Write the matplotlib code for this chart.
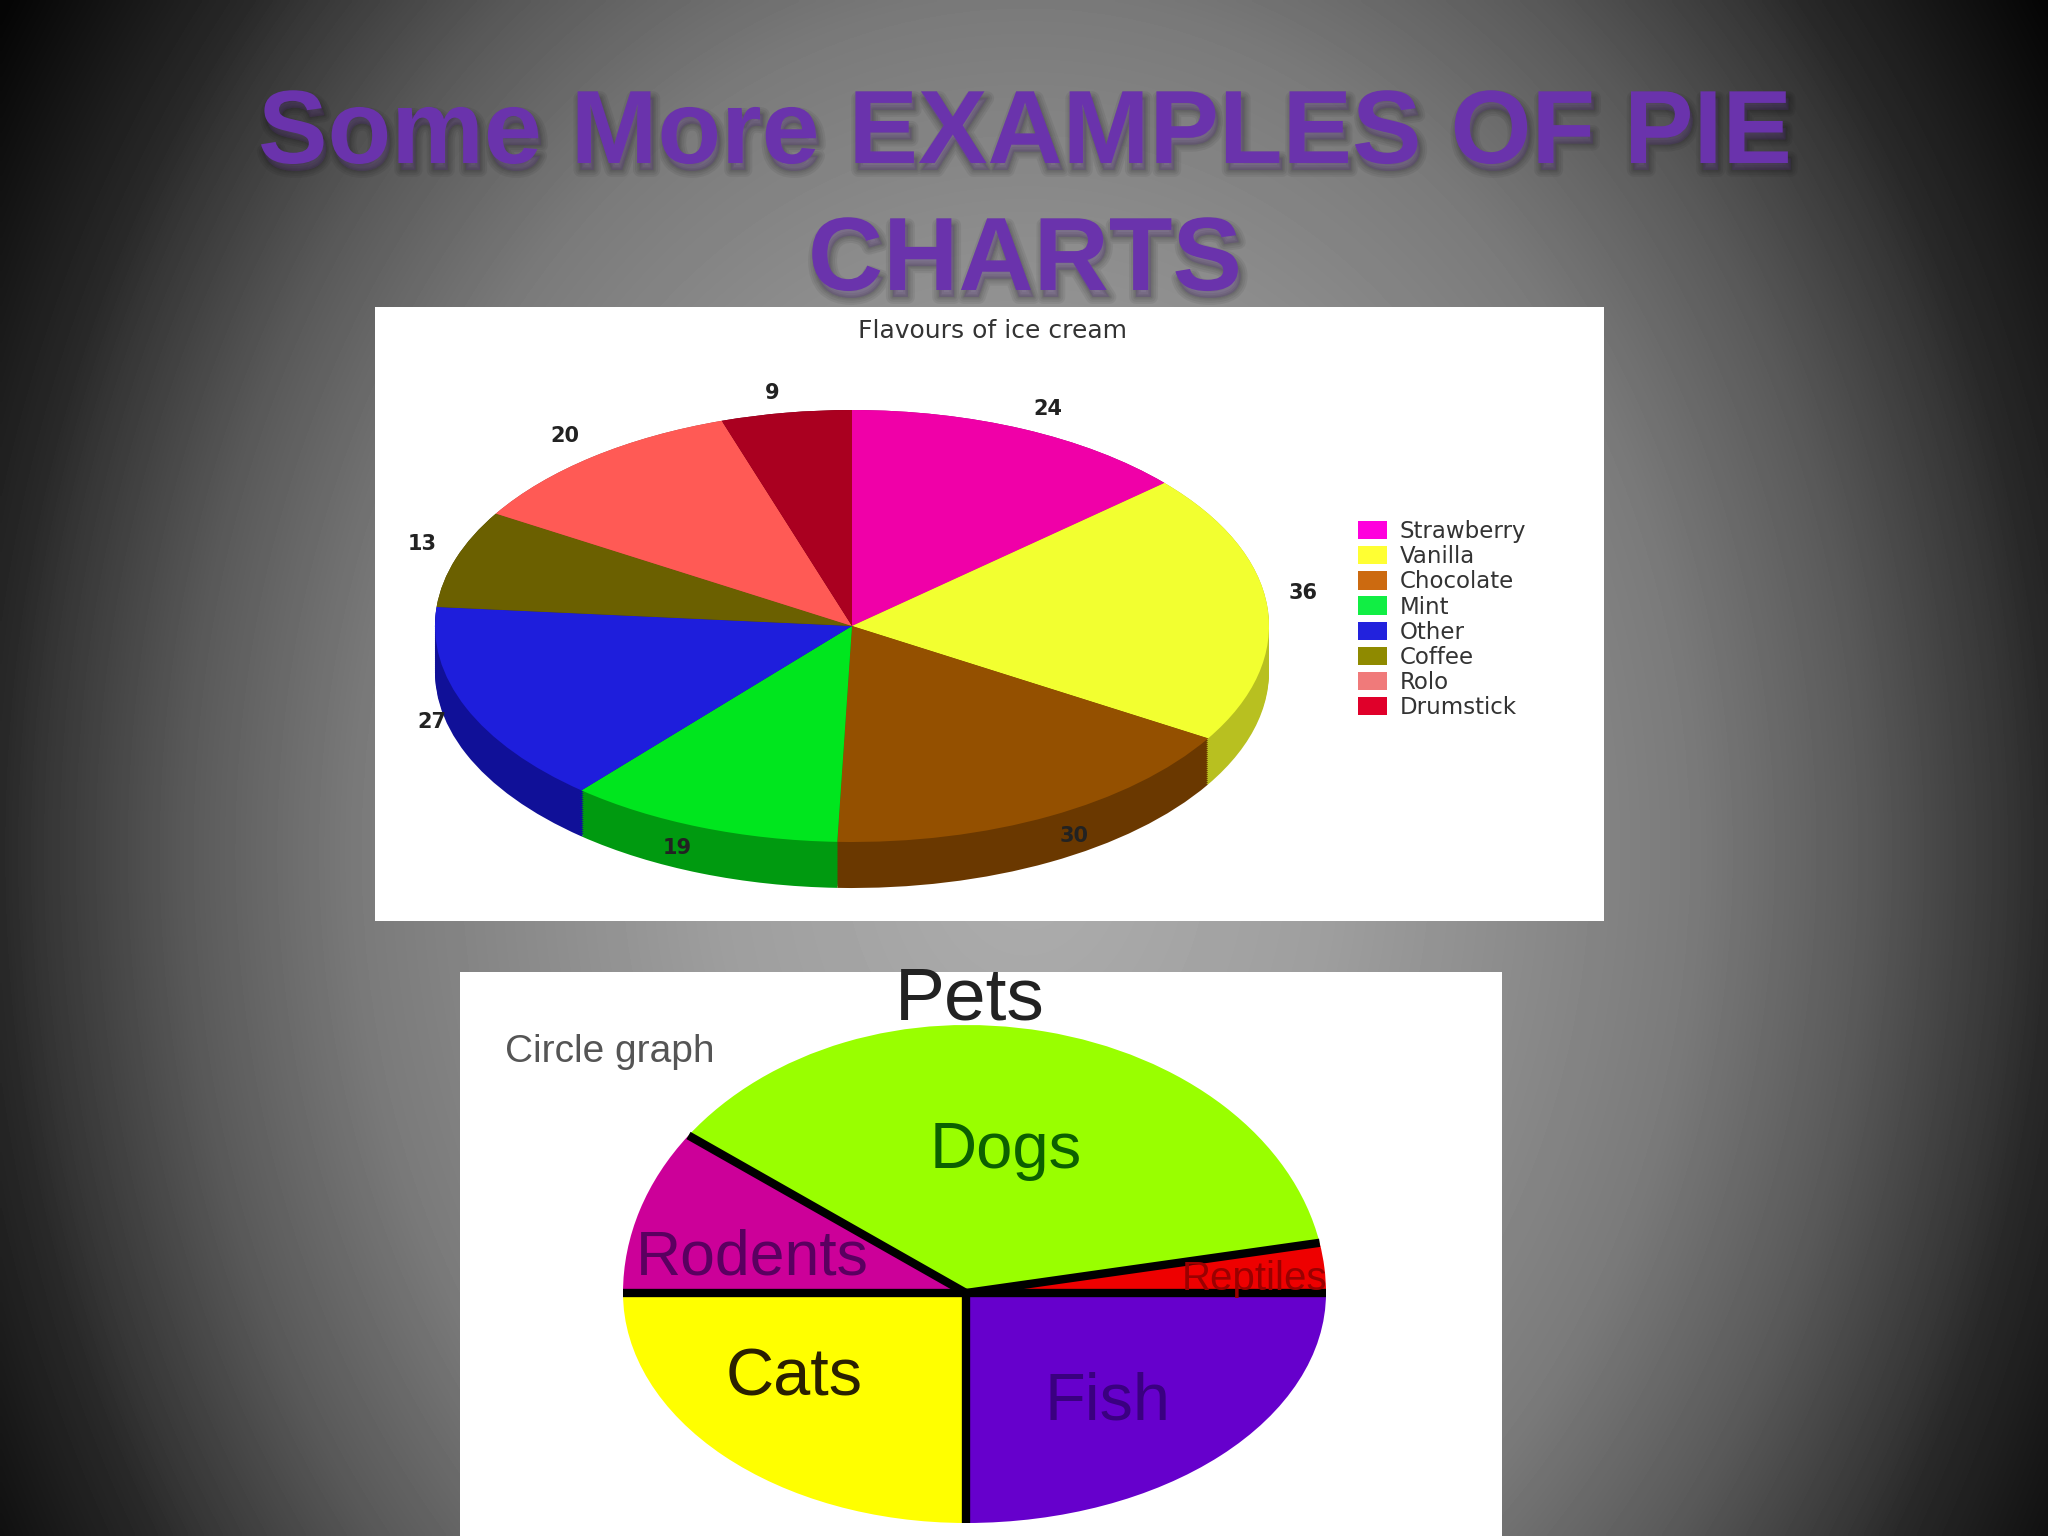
import numpy as np
import matplotlib
matplotlib.use("Agg")
import matplotlib.pyplot as plt
import matplotlib.patheffects as pe
from matplotlib.patches import Rectangle, Patch

W, H = 2048, 1536

# ---- data ----
flavours = ["Strawberry", "Vanilla", "Chocolate", "Mint", "Other", "Coffee", "Rolo", "Drumstick"]
flavour_values = [24, 36, 30, 19, 27, 13, 20, 9]
flavour_top = ["#f000a8", "#f2ff30", "#945000", "#00e61e", "#1e1edc", "#6b6000", "#ff5a55", "#aa0020"]
flavour_side = ["#a00070", "#b8c020", "#6a3800", "#009a10", "#101098", "#4a4200", "#b04040", "#700015"]
flavour_legend = ["#ff00dd", "#ffff33", "#cc6a10", "#11ee44", "#2222dd", "#8f8a00", "#f07a7a", "#e0002a"]
label_nudges = [(4, 4), (-14, -12), (1, -3), (-6, -3), (12, 4), (14, -6), (3, 0), (-6, 6)]

pets = ["Dogs", "Reptiles", "Fish", "Cats", "Rodents"]
pet_values = [37, 3, 25, 25, 10]
pet_colors = ["#99ff00", "#ee0000", "#6600cc", "#ffff00", "#cc0099"]

fig = plt.figure(figsize=(W / 100, H / 100), dpi=100)


def axes_px(x0, y0, x1, y1, **kw):
    """Axes from a pixel box (y measured from the top of the figure)."""
    return fig.add_axes([x0 / W, 1 - y1 / H, (x1 - x0) / W, (y1 - y0) / H], **kw)


# ---- background ----
bg = axes_px(0, 0, W, H, zorder=0)
yy, xx = np.mgrid[0:H:4, 0:W:4]
d = np.sqrt(((xx - 1024) / 1024.0) ** 2 + ((yy - 850) / 1300.0) ** 2)
v = np.interp(d, [0, 0.3, 0.65, 0.82, 0.96, 1.0, 1.19],
              [0.68, 0.62, 0.48, 0.35, 0.21, 0.16, 0.02])
bg.imshow(v, cmap="gray", vmin=0, vmax=1, extent=(0, W, H, 0), aspect="auto", interpolation="bilinear")
bg.add_patch(Rectangle((375, 307), 1229, 614, fc="white", ec="none"))
bg.add_patch(Rectangle((460, 972), 1042, 564, fc="white", ec="none"))
bg.set_xlim(0, W)
bg.set_ylim(H, 0)
bg.axis("off")

# ---- ice-cream pie (drawn in an axes whose unit circle is an ellipse) ----
cx, cy, rx, ry = 852, 626, 417, 216
depth = 46 / ry
ice = axes_px(cx - 1.3 * rx, cy - 1.3 * ry, cx + 1.3 * rx, cy + 1.5 * ry, zorder=1)
ice.patch.set_alpha(0)
for off in np.linspace(depth, 0, 24):
    ice.pie(flavour_values, colors=flavour_side, startangle=90, counterclock=False,
            center=(0, -off), radius=1, wedgeprops={"linewidth": 0})
_, labs = ice.pie(flavour_values, colors=flavour_top, startangle=90, counterclock=False,
                  radius=1, labels=[str(x) for x in flavour_values], labeldistance=1.12,
                  wedgeprops={"linewidth": 0},
                  textprops={"fontsize": 15, "fontweight": "bold", "color": "#222222",
                             "family": "DejaVu Sans"})
for t, (dx, dy) in zip(labs, label_nudges):
    t.set_ha("center")
    t.set_va("center")
    x, y = t.get_position()
    t.set_position((x + dx / rx, y - dy / ry))
ice.set_aspect("auto")
ice.set_xlim(-1.3, 1.3)
ice.set_ylim(-1.5, 1.3)
ice.axis("off")

# ---- pets pie: each quadrant has its own radii around the hub ----
hx, hy, rx_l, rx_r, ry_u, ry_d = 966, 1293, 343, 360, 268, 230
angles = 144 - np.cumsum([0] + pet_values) * 3.6
quadrants = [
    (hx - rx_l, hy - ry_u, hx, hy, (-1, 0), (0, 1)),
    (hx, hy - ry_u, hx + rx_r, hy, (0, 1), (0, 1)),
    (hx - rx_l, hy, hx, hy + ry_d, (-1, 0), (-1, 0)),
    (hx, hy, hx + rx_r, hy + ry_d, (0, 1), (-1, 0)),
]
for (x0, y0, x1, y1, xl, yl) in quadrants:
    a = axes_px(x0, y0, x1, y1, zorder=2)
    a.patch.set_alpha(0)
    wedges, _ = a.pie(pet_values, colors=pet_colors, startangle=144, counterclock=False, radius=1,
                      wedgeprops={"linewidth": 0})
    for w in wedges:
        w.set_clip_on(True)
    a.set_aspect("auto")
    a.set_xlim(*xl)
    a.set_ylim(*yl)
    a.axis("off")

# separators go over all four quadrants
lines = axes_px(hx - rx_l, hy - ry_u, hx + rx_r, hy + ry_d, zorder=3)
lines.patch.set_alpha(0)
lines.set_xlim(-rx_l, rx_r)
lines.set_ylim(-ry_d, ry_u)
lines.axis("off")
for ang in angles[:-1]:
    c, s = np.cos(np.radians(ang)), np.sin(np.radians(ang))
    lines.plot([0, c * (rx_r if c > 0 else rx_l)], [0, s * (ry_u if s > 0 else ry_d)],
               color="black", lw=6, solid_capstyle="butt")

# ---- overlay text ----
top = axes_px(0, 0, W, H, zorder=5)
top.patch.set_alpha(0)
top.set_xlim(0, W)
top.set_ylim(H, 0)
top.axis("off")

shadow = [pe.Stroke(linewidth=lw, foreground="black", alpha=0.06, offset=(2, -5)) for lw in (10, 7, 4, 2)]
title_fx = shadow + [pe.Normal()]
for txt, yb in [("Some More EXAMPLES OF PIE", 163), ("CHARTS", 290)]:
    top.text(1025, yb, txt, ha="center", va="baseline", fontsize=75, fontweight="bold",
             family="Liberation Sans", color="#6a33ac", path_effects=title_fx)

top.text(993, 331, "Flavours of ice cream", ha="center", va="center", fontsize=18,
         family="DejaVu Sans", color="#333333")

handles = [Patch(fc=c, ec="none") for c in flavour_legend]
leg = top.legend(handles, flavours, loc="upper left", bbox_to_anchor=(1358 / W, 1 - 520 / H),
                 bbox_transform=fig.transFigure, frameon=False, borderpad=0,
                 borderaxespad=0, handlelength=1.27, handleheight=0.85, handletextpad=0.55,
                 labelspacing=0.095, prop={"family": "DejaVu Sans", "size": 16.5})
for t in leg.get_texts():
    t.set_color("#333333")

pet_sans = "Liberation Sans"
top.text(970, 1000, "Pets", ha="center", va="center", fontsize=54, family=pet_sans, color="#222222")
top.text(610, 1052, "Circle graph", ha="center", va="center", fontsize=28, family=pet_sans, color="#555555")
for txt, x, y, fs, col in [("Dogs", 1006, 1151, 47, "#0c6000"), ("Rodents", 752, 1258, 45, "#5a0060"),
                           ("Cats", 794, 1378, 48, "#2a2000"), ("Fish", 1107, 1402, 48, "#3a0080"),
                           ("Reptiles", 1255, 1279, 29, "#9a0000")]:
    top.text(x, y, txt, ha="center", va="center", fontsize=fs, family=pet_sans, color=col)

fig.savefig("out.png", dpi=100)
